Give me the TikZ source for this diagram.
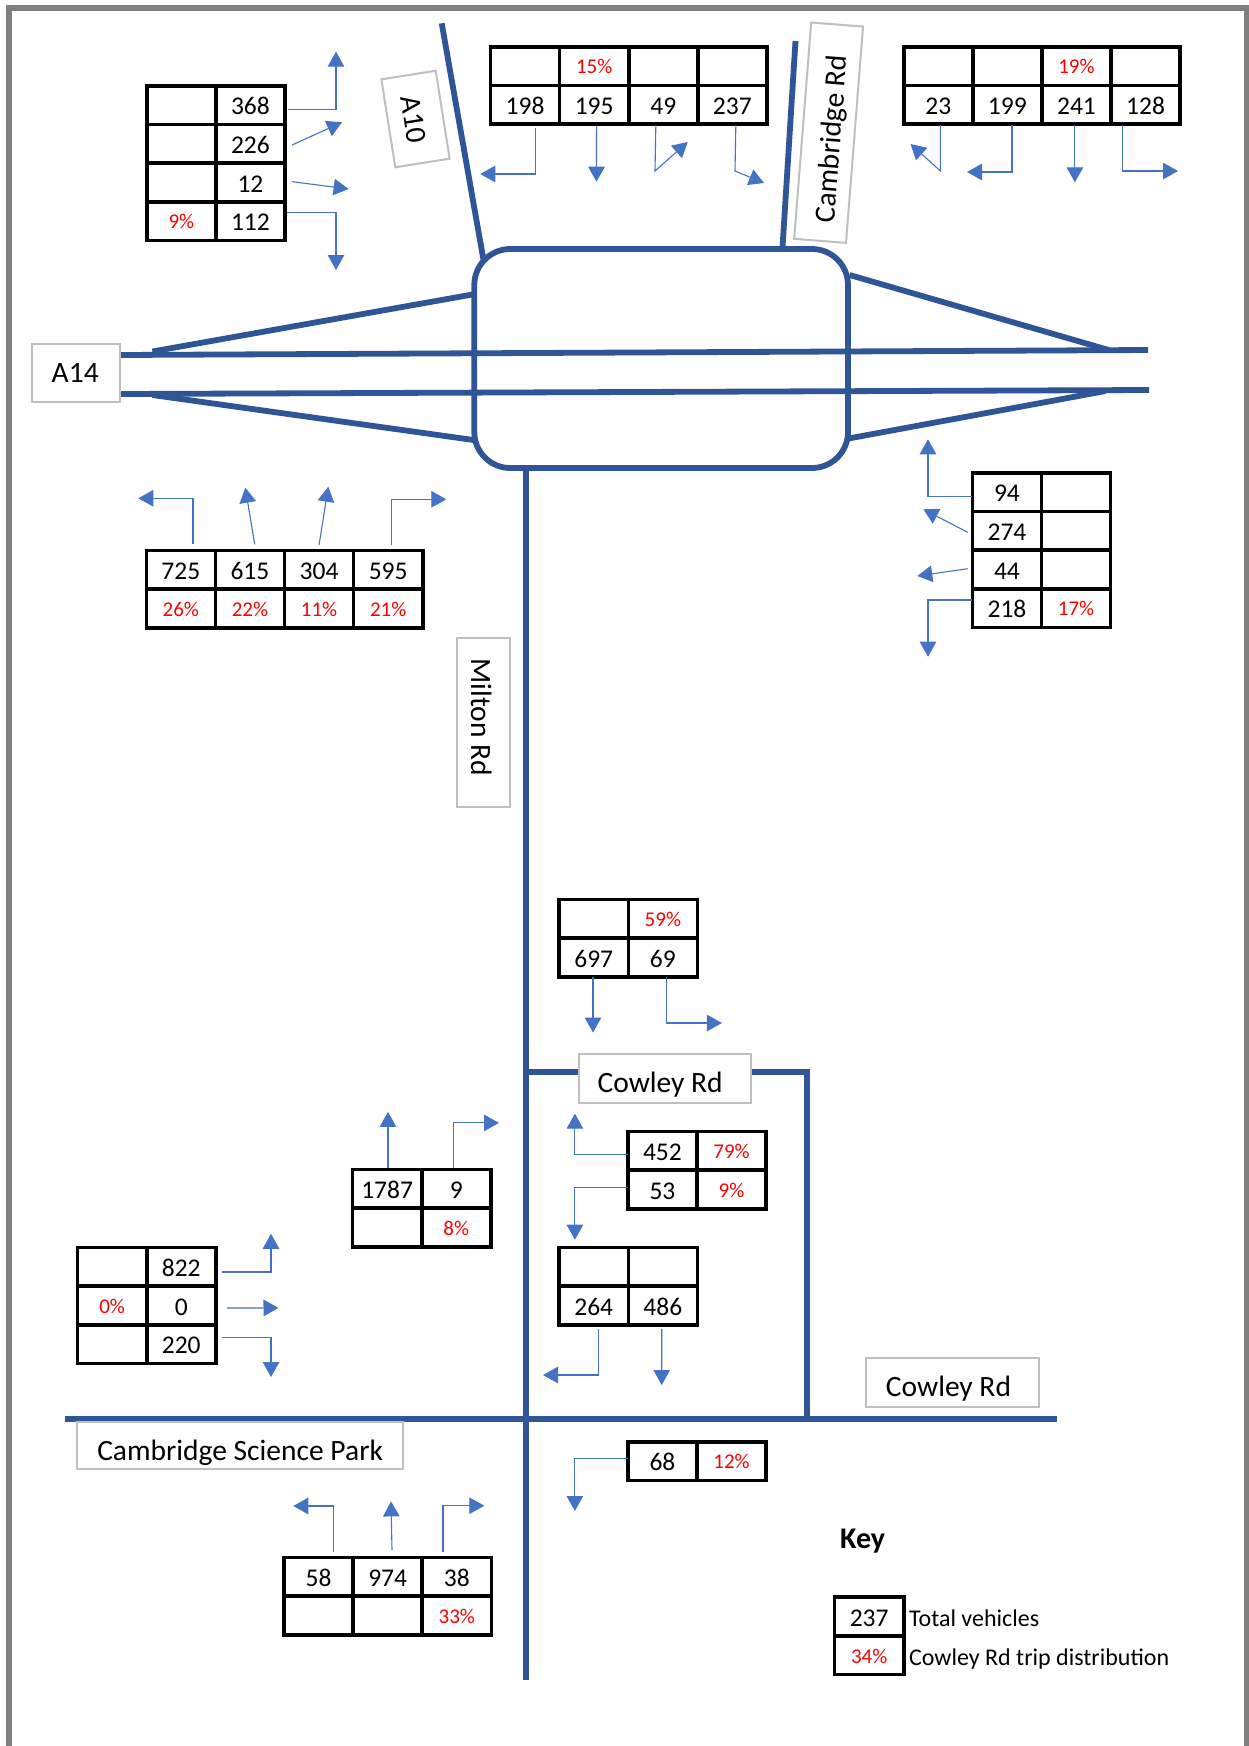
\documentclass[tikz,border=0pt]{standalone}
\usepackage{fontspec}
\setmainfont{Carlito}
\usetikzlibrary{arrows.meta}
\definecolor{road}{HTML}{2F5597}
\definecolor{flowc}{HTML}{4472C4}
\definecolor{framec}{HTML}{7F7F7F}
\definecolor{boxc}{HTML}{BFBFBF}
\tikzset{
  roadline/.style={draw=road,line width=5.8pt},
  flow/.style={draw=flowc,line width=1.1pt,-{Triangle[length=15pt,width=16.5pt,fill=flowc]}},
  tcell/.style={draw=black,line width=3.6pt,rectangle,anchor=north west,inner sep=0pt,outer sep=0pt,
    minimum width=69.1pt,minimum height=38.7pt,font=\fontsize{25.5}{30}\selectfont},
  labelbox/.style={draw=boxc,fill=white,line width=2pt,rectangle,inner sep=0pt,outer sep=0pt,
    font=\fontsize{29.5}{32}\selectfont},
  keytext/.style={anchor=west,inner sep=0pt,font=\fontsize{24}{26}\selectfont},
}
\newcommand\cel[4]{\node[tcell] (#1) at (#2,#3) {\raisebox{-9.8pt}[0pt][0pt]{#4}};}
\newcommand\pc[1]{\raisebox{2pt}{\textcolor{red}{\fontsize{21}{24}\selectfont #1\%}}}
\begin{document}
\begin{tikzpicture}[x=1pt,y=-1pt]
\useasboundingbox (0,0) rectangle (1248,1746);
\fill[white] (0,0) rectangle (1248,1746);
\draw[framec,line width=5.5pt] (9.2,1746) -- (9.2,8.2) -- (1247,8.2) -- (1247,1746);

% roundabout and roads
\node[roadline,rectangle,rounded corners=36pt,inner sep=0pt,outer sep=0pt,minimum width=373.7pt,minimum height=219pt] (rb) at (661.15,358.5) {};
\coordinate (a10top) at (441.7,23.3);
\coordinate (a10bot) at (483.5,260);
\coordinate (camtop) at (795.5,41);
\coordinate (cambot) at (782.4,249);
\coordinate (a14nW) at (120,355);
\coordinate (a14nE) at (1148,350);
\coordinate (a14sW) at (120,394);
\coordinate (a14sE) at (1149,390);
\coordinate (fanNWa) at (152.4,351.5);
\coordinate (fanNWb) at (473.5,294.3);
\coordinate (fanSWa) at (152.4,395);
\coordinate (fanSWb) at (473.5,440);
\coordinate (fanNEa) at (849.6,275);
\coordinate (fanNEb) at (1108.7,350);
\coordinate (fanSEa) at (849.6,438.3);
\coordinate (fanSEb) at (1105.5,391);
\coordinate (miltonBot) at (525.7,1680);
\coordinate (cspW) at (65.3,1418.6);
\coordinate (cowE) at (1057,1418.6);
\coordinate (cowA) at (525.7,1071.7);
\coordinate (cowB) at (807.3,1071.7);
\coordinate (cowC) at (807.3,1418.6);
\draw[roadline] (a10top) -- (a10bot);
\draw[roadline] (camtop) -- (cambot);
\draw[roadline] (a14nW) -- (a14nE);
\draw[roadline] (a14sW) -- (a14sE);
\draw[roadline] (fanNWa) -- (fanNWb);
\draw[roadline] (fanSWa) -- (fanSWb);
\draw[roadline] (fanNEa) -- (fanNEb);
\draw[roadline] (fanSEa) -- (fanSEb);
\draw[roadline] (525.7,468) -- (miltonBot);
\draw[roadline] (cspW) -- (cowE);
\draw[roadline] (cowA) -- (cowB) -- (cowC);

% road labels
\node[labelbox,minimum width=88pt,minimum height=57.4pt] (a14) at (76.2,373) {\hspace*{-1pt}A14\hspace*{1pt}};
\node[labelbox,minimum width=89pt,minimum height=55pt,rotate=-81] (a10) at (415.5,119) {\raisebox{-11.5pt}[0pt][0pt]{A10}};
\node[labelbox,minimum width=217pt,minimum height=52pt,rotate=85.5] (cam) at (828.6,132.7) {\raisebox{-12.5pt}[0pt][0pt]{Cambridge Rd}\hspace*{12pt}};
\node[labelbox,minimum width=169pt,minimum height=52.4pt,rotate=-90] (milton) at (483.5,722.8) {\raisebox{-12.5pt}[0pt][0pt]{Milton Rd}\hspace*{11pt}};
\node[labelbox,minimum width=171.8pt,minimum height=48.6pt] (cow1) at (664.6,1078.3) {\raisebox{-14.4pt}[0pt][0pt]{Cowley Rd}\hspace*{9pt}};
\node[labelbox,minimum width=172.2pt,minimum height=48.5pt] (cow2) at (952.5,1382.7) {\raisebox{-14pt}[0pt][0pt]{Cowley Rd}\hspace*{8pt}};
\node[labelbox,minimum width=325.8pt,minimum height=46.3pt] (csp) at (240.1,1445.5) {\raisebox{-14.5pt}[0pt][0pt]{Cambridge Science Park}};

% table 1
\cel{ta1}{146.8}{85.7}{}\cel{ta2}{215.9}{85.7}{368}
\cel{tb1}{146.8}{124.4}{}\cel{tb2}{215.9}{124.4}{226}
\cel{tc1}{146.8}{163.1}{}\cel{tc2}{215.9}{163.1}{12}
\cel{td1}{146.8}{201.8}{\pc{9}}\cel{td2}{215.9}{201.8}{112}
\coordinate (ea) at (336,51.7);
\coordinate (eb) at (342,122.3);
\coordinate (ec) at (348.6,189);
\coordinate (ed) at (336,270);
\draw[flow] ([xshift=3.2pt,yshift=-4pt]ta2.east) -| (ea);
\draw[flow] ([xshift=7pt,yshift=-1.3pt]tb2.east) -- (eb);
\draw[flow] ([xshift=7pt,yshift=.8pt]tc2.east) -- (ec);
\draw[flow] ([xshift=1.7pt,yshift=8.9pt]td2.east) -| (ed);

% table 2
\cel{ua1}{490.5}{46.7}{}\cel{ua2}{559.6}{46.7}{\pc{15}}\cel{ua3}{628.7}{46.7}{}\cel{ua4}{697.8}{46.7}{}
\cel{ub1}{490.5}{85.4}{198}\cel{ub2}{559.6}{85.4}{195}\cel{ub3}{628.7}{85.4}{49}\cel{ub4}{697.8}{85.4}{237}
\coordinate (ua) at (480.3,174);
\coordinate (ub) at (596.5,181.7);
\coordinate (ucc) at (655,171);
\coordinate (uc) at (687.7,142);
\coordinate (udc) at (735,171);
\coordinate (ud) at (764,183);
\draw[flow] ([xshift=10pt,yshift=-4pt]ub1.south) |- (ua);
\draw[flow] ([xshift=2.4pt,yshift=-2pt]ub2.south) -- (ub);
\draw[flow] ([xshift=-7.4pt,yshift=-1pt]ub3.south) -- (ucc) -- (uc);
\draw[flow] ([xshift=3.5pt,yshift=-1pt]ub4.south) -- (udc) -- (ud);

% table 3
\cel{va1}{903.7}{46.7}{}\cel{va2}{972.8}{46.7}{}\cel{va3}{1041.9}{46.7}{\pc{19}}\cel{va4}{1111}{46.7}{}
\cel{vb1}{903.7}{85.4}{23}\cel{vb2}{972.8}{85.4}{199}\cel{vb3}{1041.9}{85.4}{241}\cel{vb4}{1111}{85.4}{128}
\coordinate (vac) at (940.4,171);
\coordinate (va) at (910.5,144);
\coordinate (vb) at (967,172);
\coordinate (vc) at (1074.9,182.3);
\coordinate (vd) at (1178,171);
\draw[flow] ([xshift=2.15pt,yshift=-1pt]vb1.south) -- (vac) -- (va);
\draw[flow] ([xshift=4.65pt,yshift=-1pt]vb2.south) |- (vb);
\draw[flow] ([xshift=-1.55pt,yshift=-1pt]vb3.south) -- (vc);
\draw[flow] ([xshift=-22.95pt,yshift=-1pt]vb4.south) |- (vd);

% table 4 (west approach)
\cel{wa1}{146.3}{550.3}{725}\cel{wa2}{215.4}{550.3}{615}\cel{wa3}{284.5}{550.3}{304}\cel{wa4}{353.6}{550.3}{595}
\cel{wb1}{146.3}{589}{\pc{26}}\cel{wb2}{215.4}{589}{\pc{22}}\cel{wb3}{284.5}{589}{\pc{11}}\cel{wb4}{353.6}{589}{\pc{21}}
\coordinate (wa) at (138.3,498.3);
\coordinate (wb) at (245.3,487.7);
\coordinate (wc) at (328.3,486.7);
\coordinate (wd) at (446.3,499.3);
\draw[flow] ([xshift=12.15pt,yshift=6pt]wa1.north) |- (wa);
\draw[flow] ([xshift=4.75pt,yshift=6pt]wa2.north) -- (wb);
\draw[flow] ([yshift=5.3pt]wa3.north) -- (wc);
\draw[flow] ([xshift=3.15pt,yshift=5pt]wa4.north) |- (wd);

% table 5 (east approach)
\cel{xa1}{972.4}{472.7}{94}\cel{xa2}{1041.5}{472.7}{}
\cel{xb1}{972.4}{511.4}{274}\cel{xb2}{1041.5}{511.4}{}
\cel{xc1}{972.4}{550.1}{44}\cel{xc2}{1041.5}{550.1}{}
\cel{xd1}{972.4}{588.8}{218}\cel{xd2}{1041.5}{588.8}{\pc{17}}
\coordinate (xa) at (928,439.3);
\coordinate (xb) at (923.3,509.3);
\coordinate (xc) at (917.3,576);
\coordinate (xd) at (928,656.7);
\draw[flow] ([xshift=-.7pt,yshift=-4.25pt]xa1.west) -| (xa);
\draw[flow] ([xshift=-4.7pt,yshift=-1.55pt]xb1.west) -- (xb);
\draw[flow] ([xshift=-4.7pt,yshift=.75pt]xc1.west) -- (xc);
\draw[flow] ([xshift=-.7pt,yshift=8.15pt]xd1.west) -| (xd);

% table 6 (697 / 69)
\cel{ya1}{559.2}{899.3}{}\cel{ya2}{628.3}{899.3}{\pc{59}}
\cel{yb1}{559.2}{938}{697}\cel{yb2}{628.3}{938}{69}
\coordinate (ya) at (593,1032.5);
\coordinate (yb) at (721.9,1023);
\draw[flow] ([xshift=-.75pt,yshift=-.5pt]yb1.south) -- (ya);
\draw[flow] ([xshift=3.65pt,yshift=-.3pt]yb2.south) |- (yb);

% table 7 (452 / 53)
\cel{za1}{627.9}{1131.4}{452}\cel{za2}{697}{1131.4}{\pc{79}}
\cel{zb1}{627.9}{1170.1}{53}\cel{zb2}{697}{1170.1}{\pc{9}}
\coordinate (za) at (574.9,1113.7);
\coordinate (zb) at (574.9,1239.7);
\draw[flow] ([yshift=-3.85pt]za1.west) -| (za);
\draw[flow] ([yshift=2.25pt]zb1.west) -| (zb);

% table 8 (264 / 486)
\cel{pa1}{559.2}{1247.4}{}\cel{pa2}{628.3}{1247.4}{}
\cel{pb1}{559.2}{1286.1}{264}\cel{pb2}{628.3}{1286.1}{486}
\coordinate (pa) at (543,1375);
\coordinate (pb) at (661.7,1385);
\draw[flow] ([xshift=4.55pt,yshift=-4.4pt]pb1.south) |- (pa);
\draw[flow] ([xshift=-1.15pt,yshift=-4.2pt]pb2.south) -- (pb);

% table 9 (68)
\cel{qa1}{627.9}{1441.8}{68}\cel{qa2}{697}{1441.8}{\pc{12}}
\coordinate (qa) at (574.9,1511);
\draw[flow] ([yshift=2.65pt]qa1.west) -| (qa);

% table 10 (1787 / 9)
\cel{ra1}{352.6}{1169.5}{1787}\cel{ra2}{421.7}{1169.5}{9}
\cel{rb1}{352.6}{1208.2}{}\cel{rb2}{421.7}{1208.2}{\pc{8}}
\coordinate (ra) at (388,1111.9);
\coordinate (rbe) at (499,1122.9);
\draw[flow] ([xshift=.85pt,yshift=1.1pt]ra1.north) -- (ra);
\draw[flow] ([xshift=-2.65pt,yshift=1.5pt]ra2.north) |- (rbe);

% table 11 (822 / 0 / 220)
\cel{sa1}{77.6}{1247.4}{}\cel{sa2}{146.7}{1247.4}{822}
\cel{sb1}{77.6}{1286.1}{\pc{0}}\cel{sb2}{146.7}{1286.1}{0}
\cel{sc1}{77.6}{1324.8}{}\cel{sc2}{146.7}{1324.8}{220}
\coordinate (sa) at (271,1233.8);
\coordinate (sb) at (278.5,1307.9);
\coordinate (sc) at (271,1377);
\draw[flow] ([xshift=6.2pt,yshift=-5.25pt]sa2.east) -| (sa);
\draw[flow] ([xshift=11pt,yshift=-2.55pt]sb2.east) -- (sb);
\draw[flow] ([xshift=6.2pt,yshift=6.25pt]sc2.east) -| (sc);

% table 12 (58 / 974 / 38)
\cel{ka1}{284}{1557.5}{58}\cel{ka2}{353.1}{1557.5}{974}\cel{ka3}{422.2}{1557.5}{38}
\cel{kb1}{284}{1596.2}{}\cel{kb2}{353.1}{1596.2}{}\cel{kb3}{422.2}{1596.2}{\pc{33}}
\coordinate (ka) at (293.3,1506);
\coordinate (kb) at (391,1501.4);
\coordinate (kc) at (484.3,1505.7);
\draw[flow] ([xshift=15.35pt,yshift=5.1pt]ka1.north) |- (ka);
\draw[flow] ([xshift=4.35pt,yshift=7.7pt]ka2.north) -- (kb);
\draw[flow] ([xshift=-13.75pt,yshift=6pt]ka3.north) |- (kc);

% key
\node[inner sep=0pt,font=\fontsize{30}{34}\selectfont\bfseries] (keyt) at (862.6,1541) {Key};
\cel{keya}{834.6}{1597.2}{237}
\cel{keyb}{834.6}{1635.9}{\pc{34}}
\node[keytext] (keyl1) at (908.9,1618.6) {Total vehicles};
\node[keytext] (keyl2) at (908.9,1658.8) {Cowley Rd trip distribution};
\end{tikzpicture}
\end{document}
